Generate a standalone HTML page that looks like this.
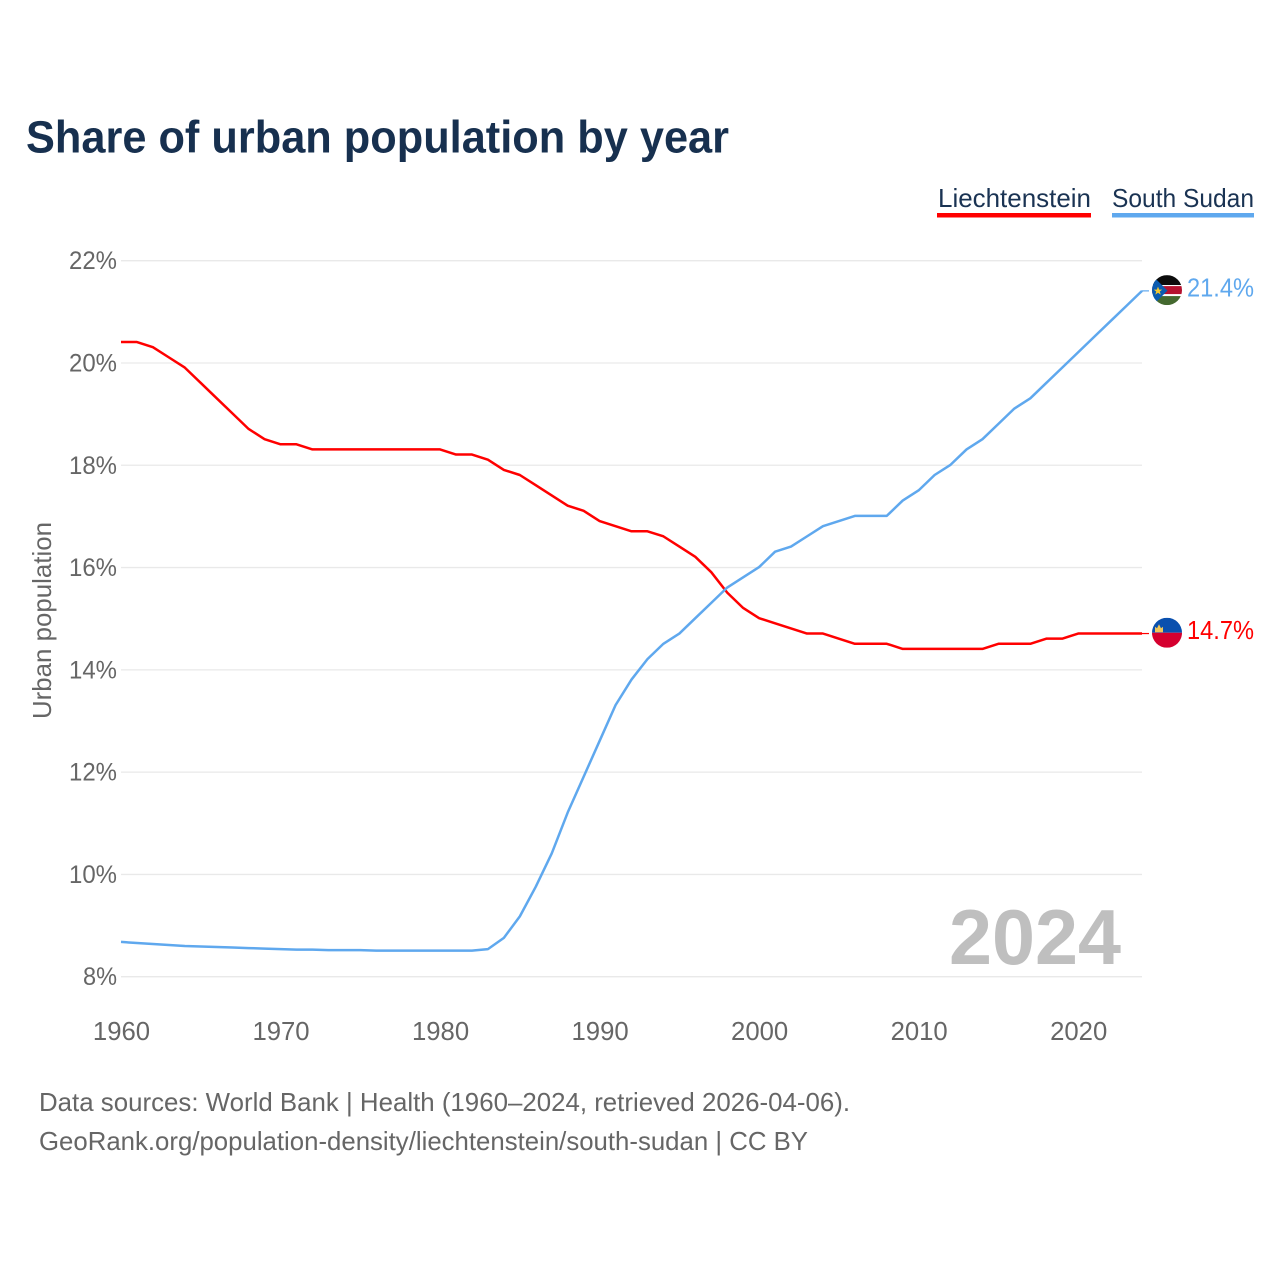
<!DOCTYPE html>
<html lang="en">
<head>
<meta charset="utf-8">
<title>Share of urban population by year</title>
<style>
html,body{margin:0;padding:0;background:#fff;}
svg{display:block;font-family:"Liberation Sans",sans-serif;}
</style>
</head>
<body>
<svg id="chart" width="1280" height="1280" viewBox="0 0 1280 1280" xmlns="http://www.w3.org/2000/svg">
  <rect width="1280" height="1280" fill="#ffffff"/>
  <text x="26" y="152.5" font-size="45" font-weight="700" fill="#17304f" textLength="703" lengthAdjust="spacingAndGlyphs">Share of urban population by year</text>

  <g>
    <g>
      <text x="938" y="207" font-size="26" fill="#1a3353" textLength="153" lengthAdjust="spacingAndGlyphs">Liechtenstein</text>
      <rect x="937" y="213" width="154" height="4.5" fill="#ff0000"/>
    </g>
    <g>
      <text x="1112" y="207" font-size="26" fill="#1a3353" textLength="142" lengthAdjust="spacingAndGlyphs">South Sudan</text>
      <rect x="1112" y="213" width="142" height="4.5" fill="#5fa8ee"/>
    </g>
  </g>

  <g id="grid"></g>
  <g id="y-axis"></g>
  <g id="x-axis"></g>
  <text transform="translate(51 620.5) rotate(-90)" text-anchor="middle" font-size="26" fill="#666666" textLength="197" lengthAdjust="spacingAndGlyphs">Urban population</text>

  <text x="949" y="964" font-size="78" font-weight="700" fill="#bfbfbf" textLength="172" lengthAdjust="spacingAndGlyphs">2024</text>

  <g id="series"></g>
  <g id="end-labels"></g>

  <defs>
    <clipPath id="flag-clip"><circle cx="0" cy="0" r="15"/></clipPath>
  </defs>

  <g id="flag-south-sudan" clip-path="url(#flag-clip)">
    <rect x="-15" y="-15" width="30" height="10" fill="#0c0c0c"/>
    <rect x="-15" y="-5" width="30" height="11" fill="#ffffff"/>
    <rect x="-15" y="-4" width="30" height="8" fill="#b5122f"/>
    <rect x="-15" y="6" width="30" height="9" fill="#44692f"/>
    <polygon points="-15,-15 -15,16 0.5,0.5" fill="#0b5cb0"/>
    <polygon points="-9,-3.5 -7.8,-0.5 -4.8,-0.5 -7.2,1.4 -6.3,4.5 -9,2.7 -11.7,4.5 -10.8,1.4 -13.2,-0.5 -10.2,-0.5" fill="#f5c830"/>
  </g>

  <g id="flag-liechtenstein" clip-path="url(#flag-clip)">
    <rect x="-15" y="-15" width="30" height="15" fill="#0a50ae"/>
    <rect x="-15" y="0" width="30" height="15" fill="#d5002f"/>
    <polygon points="-12,-0.5 -12,-6 -10,-4.5 -8,-8.5 -6,-4.5 -4,-6 -4,-0.5" fill="#f0c75a"/>
  </g>

  <g>
    <text x="39" y="1111" font-size="26" fill="#666666" textLength="811" lengthAdjust="spacingAndGlyphs">Data sources: World Bank | Health (1960–2024, retrieved 2026-04-06).</text>
    <text x="39" y="1150" font-size="26" fill="#666666" textLength="769" lengthAdjust="spacingAndGlyphs">GeoRank.org/population-density/liechtenstein/south-sudan | CC BY</text>
  </g>
</svg>

<script>
const years = [1960,1961,1962,1963,1964,1965,1966,1967,1968,1969,1970,1971,1972,1973,1974,1975,1976,1977,1978,1979,1980,1981,1982,1983,1984,1985,1986,1987,1988,1989,1990,1991,1992,1993,1994,1995,1996,1997,1998,1999,2000,2001,2002,2003,2004,2005,2006,2007,2008,2009,2010,2011,2012,2013,2014,2015,2016,2017,2018,2019,2020,2021,2022,2023,2024];
const liechtensteinValues = [20.4,20.4,20.3,20.1,19.9,19.6,19.3,19.0,18.7,18.5,18.4,18.4,18.3,18.3,18.3,18.3,18.3,18.3,18.3,18.3,18.3,18.2,18.2,18.1,17.9,17.8,17.6,17.4,17.2,17.1,16.9,16.8,16.7,16.7,16.6,16.4,16.2,15.9,15.5,15.2,15.0,14.9,14.8,14.7,14.7,14.6,14.5,14.5,14.5,14.4,14.4,14.4,14.4,14.4,14.4,14.5,14.5,14.5,14.6,14.6,14.7,14.7,14.7,14.7,14.7];
const southSudanValues = [8.67,8.65,8.63,8.61,8.59,8.58,8.57,8.56,8.55,8.54,8.53,8.52,8.52,8.51,8.51,8.51,8.50,8.50,8.50,8.50,8.50,8.50,8.50,8.53,8.75,9.17,9.75,10.4,11.2,11.9,12.6,13.3,13.8,14.2,14.5,14.7,15.0,15.3,15.6,15.8,16.0,16.3,16.4,16.6,16.8,16.9,17.0,17.0,17.0,17.3,17.5,17.8,18.0,18.3,18.5,18.8,19.1,19.3,19.6,19.9,20.2,20.5,20.8,21.1,21.4];
const yTicks = [8,10,12,14,16,18,20,22];
const xTicks = [1960,1970,1980,1990,2000,2010,2020];

const NS = 'http://www.w3.org/2000/svg';
const xScale = function (year) { return 121 + (year - 1960) * (1142 - 121) / (2024 - 1960); };
const yScale = function (value) { return 976.7 - (value - 8) * (976.7 - 260.7) / (22 - 8); };

function make(tag, parent) {
  const el = document.createElementNS(NS, tag);
  parent.appendChild(el);
  return el;
}

const gridGroup = document.getElementById('grid');
const yAxisGroup = document.getElementById('y-axis');
const xAxisGroup = document.getElementById('x-axis');
const seriesGroup = document.getElementById('series');
const endGroup = document.getElementById('end-labels');

yTicks.forEach(function (tick) {
  const line = make('line', gridGroup);
  
  
  line.setAttribute('x1', 121);
  line.setAttribute('x2', 1142);
  line.setAttribute('y1', yScale(tick));
  line.setAttribute('y2', yScale(tick));
  line.setAttribute('stroke', '#e9e9e9');
  line.setAttribute('stroke-width', '1.3');

  const label = make('text', yAxisGroup);
  const text = tick + '%';
  
  
  label.setAttribute('x', 117);
  label.setAttribute('y', yScale(tick) + 8.5);
  label.setAttribute('text-anchor', 'end');
  label.setAttribute('font-size', '25');
  label.setAttribute('fill', '#666666');
  label.setAttribute('textLength', String(14 * String(tick).length + 20));
  label.setAttribute('lengthAdjust', 'spacingAndGlyphs');
  label.textContent = text;
});

xTicks.forEach(function (tick) {
  const label = make('text', xAxisGroup);
  
  
  label.setAttribute('x', xScale(tick) + 0.5);
  label.setAttribute('y', 1040);
  label.setAttribute('text-anchor', 'middle');
  label.setAttribute('font-size', '25.7');
  label.setAttribute('fill', '#666666');
  label.textContent = String(tick);
});

function drawSeries(name, values, color) {
  const path = make('path', seriesGroup);
  
  
  path.setAttribute('d', values.map(function (value, i) {
    return (i ? 'L' : 'M') + xScale(years[i]).toFixed(2) + ' ' + (yScale(value) - 0.5).toFixed(2);
  }).join(' '));
  path.setAttribute('fill', 'none');
  path.setAttribute('stroke', color);
  path.setAttribute('stroke-width', '2.5');
  path.setAttribute('stroke-linejoin', 'round');

  const last = values[values.length - 1];
  const endX = xScale(years[years.length - 1]);
  const endY = yScale(last);

  const stub = make('line', seriesGroup);
  
  
  stub.setAttribute('x1', endX);
  stub.setAttribute('x2', endX + 7);
  stub.setAttribute('y1', endY - 0.5);
  stub.setAttribute('y2', endY - 0.5);
  stub.setAttribute('stroke', color);
  stub.setAttribute('stroke-width', '1.2');

  const valueLabel = make('text', endGroup);
  
  
  valueLabel.setAttribute('x', 1187);
  valueLabel.setAttribute('y', endY + 5);
  valueLabel.setAttribute('font-size', '26');
  valueLabel.setAttribute('fill', color);
  valueLabel.setAttribute('textLength', '67');
  valueLabel.setAttribute('lengthAdjust', 'spacingAndGlyphs');
  valueLabel.textContent = last.toFixed(1) + '%';

  document.getElementById('flag-' + name).setAttribute('transform', 'translate(1167 ' + (endY - 1.3).toFixed(2) + ')');
}

drawSeries('liechtenstein', liechtensteinValues, '#ff0000');
drawSeries('south-sudan', southSudanValues, '#5fa8ee');
</script>
</body>
</html>
